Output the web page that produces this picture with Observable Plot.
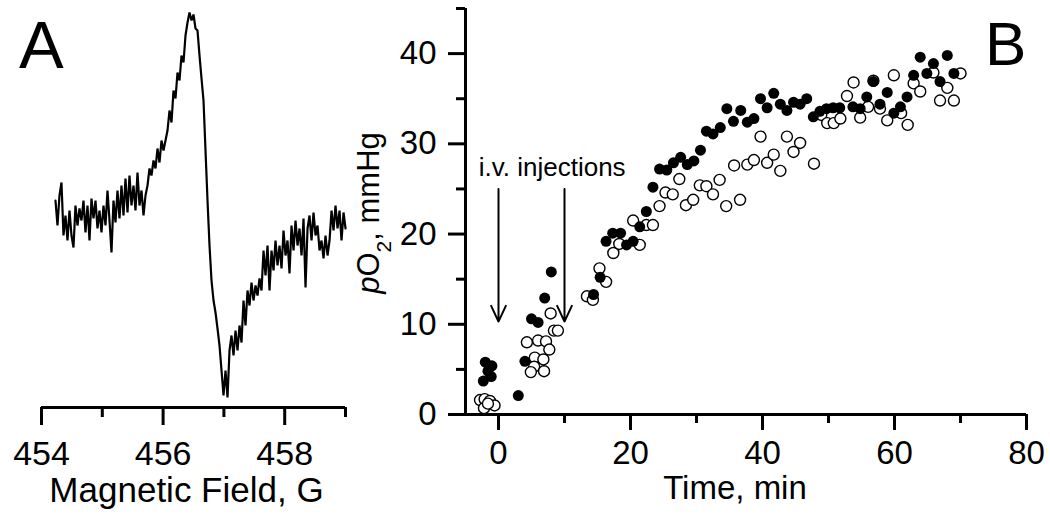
<!DOCTYPE html>
<html><head><meta charset="utf-8">
<script src="https://cdn.jsdelivr.net/npm/d3@7"></script>
<script src="https://cdn.jsdelivr.net/npm/@observablehq/plot@0.6"></script>
<style>
body{margin:0;background:#fff;}
#wrap{position:relative;width:1050px;height:528px;overflow:hidden;background:#fff;font-family:"Liberation Sans",Arial,sans-serif;}
#a,#b,#over{position:absolute;top:0;}
#a{left:0;} #b{left:360px;} #over{left:0;pointer-events:none;}
</style></head><body>
<div id="wrap"><div id="a"></div><div id="b"></div>
<svg id="over" width="1050" height="528" font-family="Liberation Sans, Arial, sans-serif" fill="black">
  <text x="19" y="68" font-size="67">A</text>
  <text x="985" y="65" font-size="62">B</text>
  <text transform="translate(379,213) rotate(-90)" text-anchor="middle" font-size="31"><tspan font-style="italic">p</tspan>O<tspan baseline-shift="sub" font-size="21">2</tspan><tspan>, mmHg</tspan></text>
</svg>
</div>
<script>
// ---------- Panel A: EPR spectrum (arbitrary intensity units) ----------
const fieldStart = 454.23;   // G
const fieldStep = 0.0329;    // G per sample
const spectrum = [
20.0,17.5,20.5,21.8,16.5,18.5,16.0,19.0,16.5,15.3,19.5,17.5,19.2,18.0,20.0,16.8,19.5,16.0,20.2,18.2,
20.0,17.2,19.0,16.8,19.5,17.5,21.0,18.0,14.8,20.0,17.8,21.0,18.2,21.5,18.5,22.2,18.8,22.5,19.5,21.5,
19.0,22.8,19.5,21.0,18.5,20.5,21.5,23.2,22.5,24.0,23.2,25.2,23.8,26.0,25.0,26.0,27.0,29.0,27.8,31.0,
30.2,32.8,32.0,34.5,33.8,36.5,37.8,38.8,38.0,38.6,37.2,37.0,34.5,32.2,30.0,25.0,20.0,15.5,12.0,10.0,
8.8,7.2,5.5,3.0,0.5,3.0,0.3,5.0,6.5,4.5,7.0,5.0,7.5,5.8,10.0,7.5,11.0,9.5,11.8,10.0,
11.5,10.5,12.2,11.0,15.0,12.5,15.5,11.0,15.0,13.0,16.0,13.5,15.5,13.2,17.0,14.5,16.0,12.7,17.5,15.0,
18.0,15.5,17.2,14.5,18.2,11.3,17.2,18.5,16.0,18.8,16.5,17.5,15.0,16.0,14.2,16.5,14.5,16.0,19.0,17.0,
19.5,17.2,19.0,16.0,18.8,17.2
];
const fieldMajorTicks = [454, 456, 458];
const fieldMinorTicks = [455, 457, 459];

// ---------- Panel B: pO2 vs time ----------
const filledTime = [-2.3,-2.0,-1.6,-1.1,-1.0,3.0,4.0,5.0,6.0,7.0,8.0,14.4,15.4,16.3,17.3,18.5,19.4,20.4,21.4,22.4,23.4,
24.4,25.5,26.5,27.6,28.6,29.6,30.6,31.5,32.5,33.6,34.6,35.6,36.7,37.7,38.7,39.7,40.7,41.7,42.7,43.7,
44.7,45.7,46.7,47.7,48.7,49.7,50.7,51.7,53.7,54.8,55.8,56.8,57.8,58.9,59.9,60.9,61.9,62.9,63.9,64.9,
65.9,66.9,68.0,69.0];
const filledPO2 = [3.7,5.8,4.8,4.2,5.4,2.1,5.9,10.6,10.2,12.9,15.8,13.3,15.2,19.2,20.1,20.1,18.8,19.2,20.8,22.5,25.2,
27.2,27.1,27.9,28.5,27.7,28.1,29.3,31.4,31.1,31.8,33.9,32.5,33.7,32.4,32.8,35.0,34.0,35.6,34.4,33.7,
34.6,34.4,35.0,33.0,33.6,33.9,34.0,34.0,34.1,33.9,35.2,36.9,34.4,35.7,33.4,34.1,35.2,37.6,39.6,37.8,
38.9,36.9,39.8,37.8];
const openTime = [-2.8,-2.1,-1.3,-0.6,-2.2,-1.6,
4.3,6.0,7.2,7.9,8.4,9.0,7.7,5.5,6.8,5.4,4.9,6.9,
13.4,14.3,15.3,16.3,17.4,18.3,20.4,21.4,22.4,23.4,
24.4,25.3,26.4,27.4,28.4,29.5,30.5,31.5,32.5,33.5,
34.5,35.7,36.6,37.7,38.7,39.7,40.7,41.7,42.7,43.7,
44.7,45.7,47.8,48.9,49.8,50.8,51.8,52.8,53.8,54.8,
56.0,56.8,57.8,58.9,59.9,61.0,62.0,62.9,63.9,65.9,
66.9,68.0,69.0,70.0];
const openPO2 = [1.6,1.7,1.5,1.0,0.7,1.2,
8.0,8.2,8.1,11.2,9.3,9.3,7.2,6.3,6.1,5.3,4.7,4.8,
13.1,12.7,16.2,14.7,17.9,18.9,21.5,18.8,21.0,21.0,
23.1,24.6,24.4,26.1,23.2,23.8,25.4,25.3,24.4,26.0,
23.1,27.6,23.8,27.7,28.2,30.8,27.9,28.8,27.0,30.8,
29.1,30.1,27.8,33.2,32.3,32.3,32.8,35.3,36.8,32.9,
34.1,37.0,33.9,32.6,37.6,33.4,32.1,36.7,35.8,37.9,
34.8,36.2,34.8,37.8];
const timeMajorTicks = [0, 20, 40, 60, 80];
const timeMinorTicks = [10, 30, 50, 70];
const po2MajorTicks = [0, 10, 20, 30, 40];
const po2MinorTicks = [5, 15, 25, 35, 45];
const injectionTimes = [0, 10];
const arrowTop = 25.0, arrowTip = 10.3;

const FONT = "Liberation Sans, Arial, sans-serif";

// Panel A
const spec = spectrum.map((v, i) => ({f: fieldStart + i * fieldStep, v}));
const plotA = Plot.plot({
  width: 360, height: 528,
  marginLeft: 41, marginRight: 15, marginTop: 0, marginBottom: 121,
  style: {fontFamily: FONT, fontSize: "34px", background: "white", color: "black", overflow: "visible"},
  x: {domain: [454, 459]},
  y: {domain: [-0.7, 40], axis: null},
  marks: [
    Plot.axisX({ticks: fieldMajorTicks, tickSize: 18, tickPadding: 15, strokeWidth: 3, label: null, tickFormat: d => String(d)}),
    Plot.axisX({ticks: fieldMinorTicks, tickSize: 10, strokeWidth: 3, text: null, label: null}),
    Plot.ruleY([-0.7], {strokeWidth: 3}),
    Plot.line(spec, {x: "f", y: "v", stroke: "black", strokeWidth: 2.2, strokeLinejoin: "miter"}),
    Plot.text(["Magnetic Field, G"], {frameAnchor: "bottom", dx: -7, dy: 94, fontSize: 35})
  ]
});
document.getElementById("a").appendChild(plotA);

// Panel B
const filled = filledTime.map((t, i) => ({t, v: filledPO2[i]}));
const open = openTime.map((t, i) => ({t, v: openPO2[i]}));
const arrows = injectionTimes.map(t => ({x: t, y1: arrowTop, y2: arrowTip}));
const plotB = Plot.plot({
  width: 690, height: 528,
  marginLeft: 105, marginRight: 24, marginTop: 8, marginBottom: 114,
  style: {fontFamily: FONT, fontSize: "33px", background: "white", color: "black", overflow: "visible"},
  x: {domain: [-5, 80]},
  y: {domain: [0, 45]},
  marks: [
    Plot.axisX({ticks: timeMajorTicks, tickSize: 16, tickPadding: 10, strokeWidth: 3, label: null, tickFormat: d => String(d)}),
    Plot.axisX({ticks: timeMinorTicks, tickSize: 9, strokeWidth: 3, text: null, label: null}),
    Plot.axisY({ticks: po2MajorTicks, tickSize: 17, tickPadding: 12, strokeWidth: 3, label: null, tickFormat: d => String(d)}),
    Plot.axisY({ticks: po2MinorTicks, tickSize: 9, strokeWidth: 3, text: null, label: null}),
    Plot.ruleY([0], {strokeWidth: 3}),
    Plot.ruleX([-5], {strokeWidth: 3}),
    Plot.dot(open, {x: "t", y: "v", r: 5.5, fill: "white", stroke: "black", strokeWidth: 1.4}),
    Plot.dot(filled, {x: "t", y: "v", r: 5.5, fill: "black", stroke: "none"}),
    Plot.arrow(arrows, {x: "x", y1: "y1", y2: "y2", stroke: "black", strokeWidth: 2, headLength: 13, headAngle: 50}),
    Plot.text(["i.v. injections"], {x: [-3.0], y: [27.35], text: d => d, textAnchor: "start", fontSize: 26}),
    Plot.text(["Time, min"], {frameAnchor: "bottom", dx: -11, dy: 84, fontSize: 33})
  ]
});
document.getElementById("b").appendChild(plotB);
</script>
</body></html>
